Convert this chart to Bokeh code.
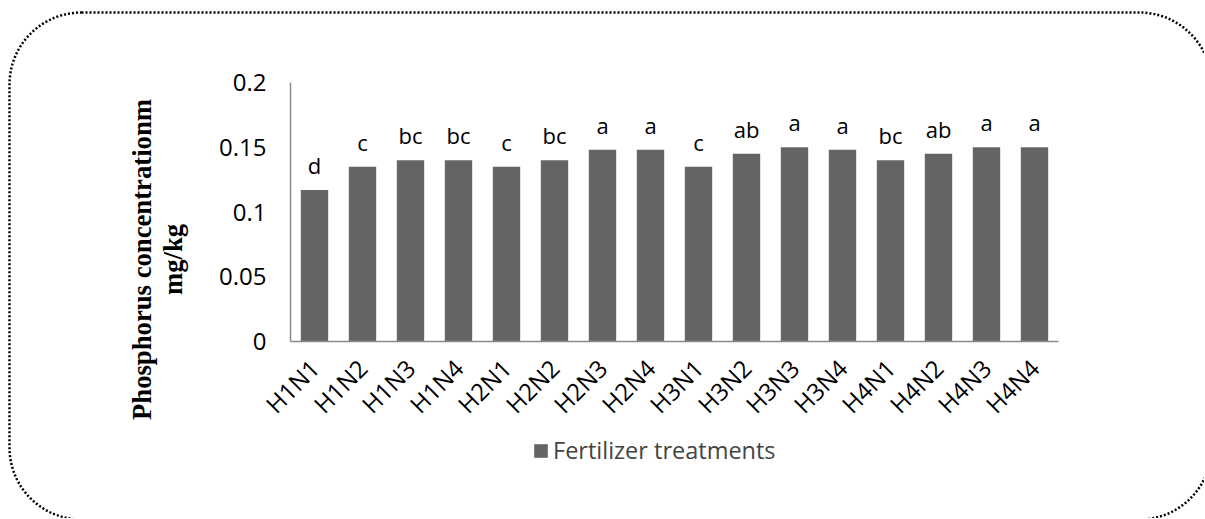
import math
from bokeh.plotting import figure
from bokeh.models import (ColumnDataSource, Range1d, FixedTicker, Label,
                          BoxAnnotation, Legend, LegendItem)
from bokeh.core.properties import value
from bokeh.embed import file_html
from bokeh.resources import INLINE

# ---- data ----
treatments = ["H1N1", "H1N2", "H1N3", "H1N4", "H2N1", "H2N2", "H2N3", "H2N4",
              "H3N1", "H3N2", "H3N3", "H3N4", "H4N1", "H4N2", "H4N3", "H4N4"]
phosphorus = [0.117, 0.135, 0.140, 0.140, 0.135, 0.140, 0.148, 0.148,
              0.135, 0.145, 0.150, 0.148, 0.140, 0.145, 0.150, 0.150]
letters = ["d", "c", "bc", "bc", "c", "bc", "a", "a",
           "c", "ab", "a", "a", "bc", "ab", "a", "a"]
y_ticks = [0, 0.05, 0.1, 0.15, 0.2]
y_tick_labels = ["0", "0.05", "0.1", "0.15", "0.2"]
series_name = "Fertilizer treatments"
y_title = "Phosphorus concentrationm\nmg/kg"

BAR = "#646464"
AXIS = "#8a8a8a"
FONT = "Open Sans"

W, H = 1204, 518
n = len(treatments)
pos = [i + 0.5 for i in range(n)]          # category slots on the x scale
src = ColumnDataSource(dict(x=pos, v=phosphorus, lab=letters))

# plot area on the canvas: x slots 0..n -> px 290..1058, y 0..0.2 -> px 341..82
FL, FR, FT, FB = 290, 1058, 82, 341
px_per_slot = (FR - FL) / n
px_per_unit = (FB - FT) / 0.2
x_range = Range1d(-FL / px_per_slot, n + (W - FR) / px_per_slot)
y_range = Range1d(-(H - FB) / px_per_unit, 0.2 + FT / px_per_unit)

p = figure(x_range=x_range, y_range=y_range, width=W, height=H,
           output_backend="svg", toolbar_location=None, min_border=0)
p.outline_line_color = None
p.xgrid.visible = False
p.ygrid.visible = False

bars = p.vbar(x="x", top="v", width=0.57, source=src, fill_color=BAR, line_color=None)
p.text(x="x", y="v", text="lab", source=src, text_align="center",
       text_baseline="alphabetic", y_offset=-25, text_font=value(FONT),
       text_font_size="22px", text_color="black")

# axes (pinned at the origin of the data area)
for ax in (p.xaxis[0], p.yaxis[0]):
    ax.fixed_location = 0
    ax.axis_line_color = AXIS
    ax.axis_line_width = 1.5
    ax.major_tick_line_color = None
    ax.minor_tick_line_color = None
    ax.major_tick_in = 0
    ax.major_tick_out = 0
    ax.major_label_text_font = FONT
    ax.major_label_text_font_size = "24px"
    ax.major_label_text_color = "black"

p.xaxis.bounds = (0, n)
p.xaxis.ticker = FixedTicker(ticks=pos)
p.xaxis.major_label_overrides = {x: t for x, t in zip(pos, treatments)}
p.xaxis.major_label_orientation = math.pi / 4
p.xaxis.major_label_standoff = 22

p.yaxis.bounds = (0, 0.2)
p.yaxis.ticker = FixedTicker(ticks=y_ticks)
p.yaxis.major_label_overrides = {t: l for t, l in zip(y_ticks, y_tick_labels)}
p.yaxis.major_label_standoff = 24

# y title (screen units: from the bottom-left of the canvas)
p.add_layout(Label(x=157, y=259, x_units="screen", y_units="screen", text=y_title,
                   angle=math.pi / 2, text_align="center", text_baseline="middle",
                   text_font="Liberation Serif", text_font_style="bold",
                   text_font_size="26.7px", text_line_height=1.05, text_color="black"))

# legend
legend = Legend(items=[LegendItem(label=series_name, renderers=[bars])],
                location=(532, 52), orientation="horizontal",
                glyph_width=17, glyph_height=17, label_standoff=4,
                padding=0, margin=0, border_line_color=None,
                background_fill_alpha=0, label_text_font=FONT,
                label_text_font_size="23.5px")
p.add_layout(legend, "center")

# dotted rounded frame
p.add_layout(BoxAnnotation(left=9, right=1211, top=506, bottom=-1,
                           left_units="screen", right_units="screen",
                           top_units="screen", bottom_units="screen",
                           fill_alpha=0, line_color="black", line_alpha=1.0,
                           line_dash="2 2", line_width=2.5, border_radius=72))

open("out.html", "w").write(file_html(p, INLINE))
